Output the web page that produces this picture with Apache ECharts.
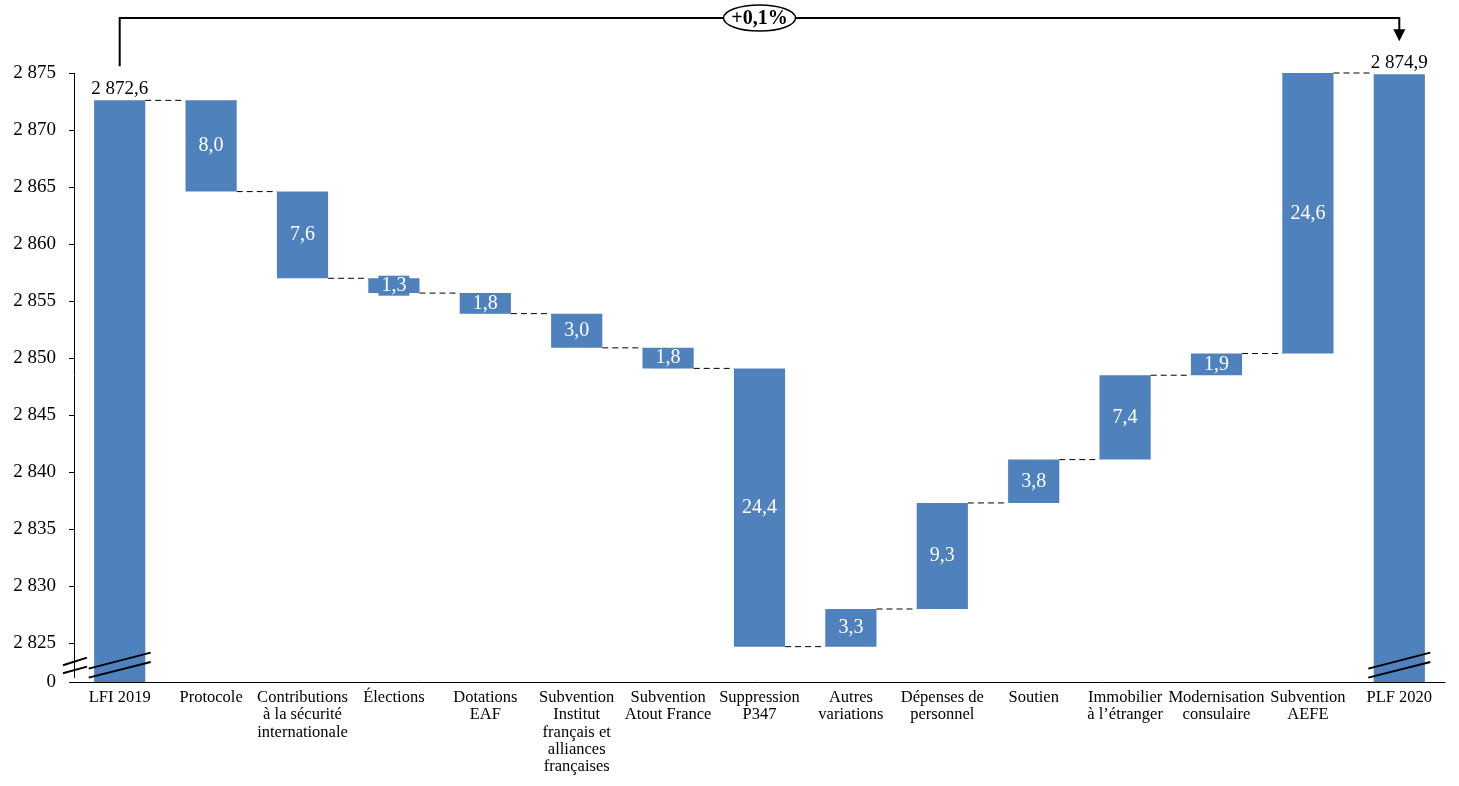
<!DOCTYPE html>
<html><head><meta charset="utf-8">
<script src="https://cdn.jsdelivr.net/npm/echarts@6/dist/echarts.min.js"></script>
<style>html,body{margin:0;padding:0;background:#fff}#c{width:1459px;height:786px}</style>
</head><body><div id="c"></div>
<script>
// ---- data ----
const categories = ['LFI 2019', 'Protocole', 'Contributions\nà la sécurité\ninternationale', 'Élections', 'Dotations\nEAF',
  'Subvention\nInstitut\nfrançais et\nalliances\nfrançaises', 'Subvention\nAtout France', 'Suppression\nP347',
  'Autres\nvariations', 'Dépenses de\npersonnel', 'Soutien', 'Immobilier\nà l’étranger', 'Modernisation\nconsulaire',
  'Subvention\nAEFE', 'PLF 2020'];
const startTotal = 2872.6;
const endTotal = 2874.9;
const deltas = [-8.0, -7.6, -1.3, -1.8, -3.0, -1.8, -24.4, 3.3, 9.3, 3.8, 7.4, 1.9, 24.6];
const changeLabel = '+0,1%';
const yTickValues = [0, 2825, 2830, 2835, 2840, 2845, 2850, 2855, 2860, 2865, 2870, 2875];
const axisMin = 0, axisMax = 2875, axisStep = 5, breakEnd = 2822;

// ---- derived ----
const base = [0], vis = [startTotal], levels = [startTotal];
let cur = startTotal;
deltas.forEach(d => {
  const nxt = Math.round((cur + d) * 10) / 10;
  base.push(Math.min(cur, nxt));
  vis.push(Math.abs(d));
  cur = nxt;
  levels.push(cur);
});
base.push(0); vis.push(endTotal);
const last = vis.length - 1;

function fmtInt(v) { return String(Math.round(v)).replace(/\B(?=(\d{3})+(?!\d))/g, ' '); }
function fmtDec(v) {
  const s = v.toFixed(1).split('.');
  return s[0].replace(/\B(?=(\d{3})+(?!\d))/g, ' ') + ',' + s[1];
}

const BLUE = '#4F81BD';
const FONT = 'Liberation Serif';

const chart = echarts.init(document.getElementById('c'));
const line = (x1, y1, x2, y2, w) => ({ type: 'line', shape: { x1, y1, x2, y2 }, style: { stroke: '#000', lineWidth: w || 2 } });

chart.setOption({
  animation: false,
  grid: { left: 74, right: 14, top: 73, bottom: 104, containLabel: false },
  xAxis: {
    type: 'category', data: categories,
    axisLine: { lineStyle: { color: '#000', width: 1 } },
    axisTick: { show: false },
    axisLabel: { interval: 0, color: '#000', fontFamily: FONT, fontSize: 16.5, lineHeight: 17.3, margin: 7 }
  },
  yAxis: {
    type: 'value', min: axisMin, max: axisMax, interval: axisStep,
    breaks: [{ start: axisMin, end: breakEnd, gap: 0.4 }],
    breakArea: { show: false },
    axisLine: { show: true, lineStyle: { color: '#000', width: 1 } },
    axisTick: { show: true, inside: false, length: 5, lineStyle: { color: '#000' }, customValues: yTickValues },
    splitLine: { show: false },
    axisLabel: {
      color: '#000', fontFamily: FONT, fontSize: 19, margin: 18, customValues: yTickValues,
      formatter: v => fmtInt(v)
    }
  },
  series: [
    {
      type: 'bar', stack: 'w', data: base, barWidth: '56%',
      itemStyle: { color: 'transparent' }, silent: true
    },
    {
      type: 'bar', stack: 'w', barWidth: '56%',
      itemStyle: { color: BLUE },
      data: vis.map((v, i) => {
        const total = (i === 0 || i === last);
        return {
          value: v,
          label: total
            ? { show: true, position: 'top', distance: 2, color: '#000', fontFamily: FONT, fontSize: 19, formatter: p => fmtDec(p.value) }
            : { show: true, position: 'inside', color: '#fff', fontFamily: FONT, fontSize: 20, lineHeight: 20, backgroundColor: BLUE, padding: [0, 3], formatter: p => fmtDec(p.value) }
        };
      })
    },
    {
      // dashed connectors
      type: 'custom', coordinateSystem: 'cartesian2d', silent: true, z: 3,
      data: levels.slice(0, last).map((l, i) => [i, l]),
      encode: { x: 0, y: 1 },
      renderItem: (params, api) => {
        const p = api.coord([api.value(0), api.value(1)]);
        const w = api.size([1, 0])[0];
        const bw = w * 0.56;
        return {
          type: 'line',
          shape: { x1: p[0] + bw / 2, y1: p[1], x2: p[0] + w - bw / 2, y2: p[1] },
          style: { stroke: '#000', lineWidth: 1, lineDash: [6, 4] }
        };
      }
    },
    {
      // axis break marks
      type: 'custom', coordinateSystem: 'cartesian2d', silent: true, z: 5, clip: false,
      data: [[0, breakEnd], [last, breakEnd]],
      encode: { x: 0, y: 1 },
      renderItem: (params, api) => {
        const cs = params.coordSys;
        const y0 = cs.y + cs.height;
        const cx = api.coord([api.value(0), api.value(1)])[0];
        const children = [
          line(cx - 31, y0 - 13.4, cx + 31, y0 - 29.4),
          line(cx - 31, y0 - 4.4, cx + 31, y0 - 20)
        ];
        if (api.value(0) === 0) {
          children.push(line(cs.x - 11, y0 - 16.7, cs.x + 13, y0 - 24.4));
          children.push(line(cs.x - 11, y0 - 8.7, cs.x + 13, y0 - 15.4));
        }
        return { type: 'group', children };
      }
    },
    {
      // top annotation bracket
      type: 'custom', coordinateSystem: 'cartesian2d', silent: true, z: 6, clip: false,
      data: [[0, startTotal, last, endTotal]],
      encode: { x: 0, y: 1 },
      renderItem: (params, api) => {
        const a = api.coord([api.value(0), api.value(1)]);
        const b = api.coord([api.value(2), api.value(3)]);
        const topY = 18;
        const ya = a[1] - 34, yb = b[1] - 33;
        const mid = (a[0] + b[0]) / 2;
        return {
          type: 'group', children: [
            { type: 'polyline', shape: { points: [[a[0], ya], [a[0], topY], [b[0], topY], [b[0], yb - 11]] }, style: { stroke: '#000', lineWidth: 2, fill: null } },
            { type: 'polygon', shape: { points: [[b[0] - 6, yb - 12], [b[0] + 6, yb - 12], [b[0], yb]] }, style: { fill: '#000' } },
            { type: 'ellipse', shape: { cx: mid, cy: topY, rx: 36, ry: 13 }, style: { fill: '#fff', stroke: '#000', lineWidth: 1.5 } },
            { type: 'text', x: mid, y: topY + 1, style: { text: changeLabel, align: 'center', verticalAlign: 'middle', fill: '#000', font: 'bold 20px "Liberation Serif"' } }
          ]
        };
      }
    }
  ]
});
</script>
</body></html>
